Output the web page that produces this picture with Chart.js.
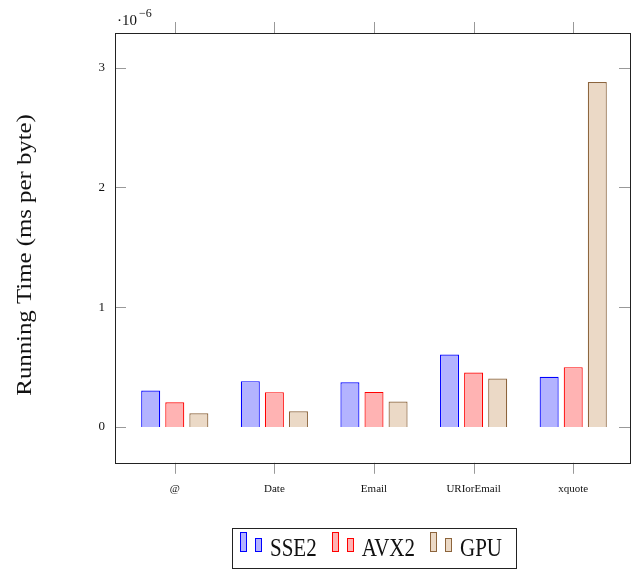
<!DOCTYPE html>
<html>
<head>
<meta charset="utf-8">
<script src="https://cdn.jsdelivr.net/npm/chart.js@4"></script>
<style>
  body{margin:0;background:#fff;}
  #wrap{position:relative;width:631px;height:570px;}
  #legend{position:absolute;left:232px;top:528px;width:285px;height:41px;border:1px solid #222;
    box-sizing:border-box;padding:1px 0 0 7px;white-space:nowrap;
    font-family:"Liberation Serif","DejaVu Serif",serif;font-size:21px;line-height:39px;color:#111;}
  .sw{display:inline-block;width:7px;height:20px;border:1.3px solid;box-sizing:border-box;margin:0 8px 4px 0;vertical-align:baseline;}
  .sw.b{height:14px;}
  .txt{display:inline-block;transform:scaleY(1.15);transform-origin:50% 75%;margin-right:15px;}
</style>
</head>
<body>
<div id="wrap">
  <canvas id="grafico" width="631" height="570"></canvas>
  <div id="legend"></div>
</div>
<script>
// datos
let categorias=['@','Date','Email','URIorEmail','xquote'];
let sse2=[0.303,0.382,0.372,0.604,0.418];
let avx2=[0.206,0.290,0.292,0.454,0.499];
let gpu=[0.114,0.131,0.211,0.404,2.88];
let ticksY=[0,1,2,3];

let series=[
    {label:'SSE2',data:sse2,fondo:'rgb(179,179,255)',borde:'rgb(0,0,255)'},
    {label:'AVX2',data:avx2,fondo:'rgb(255,179,179)',borde:'rgb(255,0,0)'},
    {label:'GPU',data:gpu,fondo:'rgb(235,217,198)',borde:'rgb(140,100,60)'},
];

const serif='"Liberation Serif","DejaVu Serif",serif';

// marco, marcas y textos extra
const marco={
    id:'marco',
    afterDraw(chart){
        let ctx=chart.ctx;
        let a=chart.chartArea;
        let x=chart.scales.x, y=chart.scales.y;
        ctx.save();
        ctx.strokeStyle='#999';
        ctx.lineWidth=1;
        ticksY.forEach(v=>{
            let py=Math.round(y.getPixelForValue(v))+0.5;
            ctx.beginPath();
            ctx.moveTo(a.left,py);ctx.lineTo(a.left+11,py);
            ctx.moveTo(a.right,py);ctx.lineTo(a.right-11,py);
            ctx.stroke();
        });
        categorias.forEach((c,i)=>{
            let px=Math.round(x.getPixelForValue(i))+0.5;
            ctx.beginPath();
            ctx.moveTo(px,a.top);ctx.lineTo(px,a.top-11);
            ctx.moveTo(px,a.bottom);ctx.lineTo(px,a.bottom+11);
            ctx.stroke();
        });
        ctx.strokeStyle='#222';
        ctx.strokeRect(Math.round(a.left)+0.5,Math.round(a.top)+0.5,Math.round(a.right-a.left),Math.round(a.bottom-a.top));
        // escala 10^-6
        ctx.fillStyle='#111';
        ctx.font='15px '+serif;
        ctx.textBaseline='alphabetic';
        ctx.textAlign='left';
        ctx.fillText('\u00b710',a.left+2,25);
        ctx.font='12px '+serif;
        ctx.fillText('\u22126',a.left+24,17);
        // titulo eje y
        ctx.font='20px '+serif;
        ctx.translate(31,(a.top+a.bottom)/2+7);
        ctx.rotate(-Math.PI/2);
        ctx.scale(1.24,1);
        ctx.textAlign='center';
        ctx.fillText('Running Time (ms per byte)',0,0);
        ctx.restore();
    }
};

let canvas=document.getElementById('grafico').getContext('2d');
let datos={
    datasets:series.map(s=>({
        label:s.label,
        data:s.data.map((v,i)=>({x:i,y:v})),
        backgroundColor:s.fondo,
        borderColor:s.borde,
        borderWidth:1.2,
        categoryPercentage:0.725,
        barPercentage:0.79,
    }))
};
let opciones={
    responsive:false,
    animation:false,
    layout:{padding:{top:33,right:1,bottom:54,left:0}},
    plugins:{legend:{display:false},tooltip:{enabled:false}},
    scales:{
        x:{
            type:'linear',
            offset:false,
            min:-0.6,max:4.57,
            grid:{display:false,drawTicks:false},
            border:{display:false},
            afterBuildTicks:s=>{s.ticks=categorias.map((c,i)=>({value:i}));},
            ticks:{
                autoSkip:false,maxRotation:0,padding:20,
                font:{family:serif,size:11},color:'#111',
                callback:v=>categorias[v]
            }
        },
        y:{
            min:-0.3,max:3.29,
            grid:{display:false,drawTicks:false},
            border:{display:false},
            afterBuildTicks:s=>{s.ticks=ticksY.map(v=>({value:v}));},
            afterFit:s=>{s.width=115;},
            ticks:{padding:10,font:{family:serif,size:13},color:'#111'}
        }
    }
};
let G1=new Chart(canvas,{type:'bar',data:datos,options:opciones,plugins:[marco]});

// leyenda
let leyenda=document.getElementById('legend');
series.forEach(s=>{
    leyenda.insertAdjacentHTML('beforeend',
        '<span class="sw" style="background:'+s.fondo+';border-color:'+s.borde+'"></span>'+
        '<span class="sw b" style="background:'+s.fondo+';border-color:'+s.borde+'"></span>'+
        '<span class="txt">'+s.label+'</span>');
});
</script>
</body>
</html>
